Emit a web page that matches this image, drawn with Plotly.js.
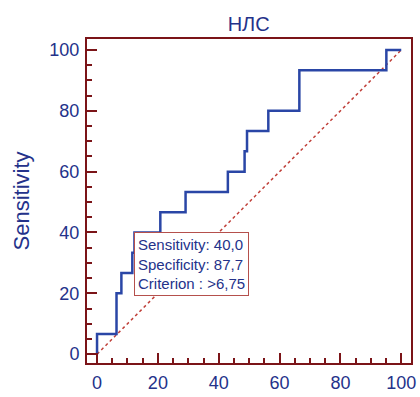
<!DOCTYPE html>
<html>
<head>
<meta charset="utf-8">
<script src="https://cdn.plot.ly/plotly-3.0.1.min.js"></script>
<style>html,body{margin:0;padding:0;background:#fff;}#chart{width:420px;height:397px;}</style>
</head>
<body>
<div id="chart"></div>
<script>
// ROC curve points: 100-Specificity (x) and Sensitivity (y)
const rocX = [0, 0, 6.4, 6.4, 8.0, 8.0, 11.6, 11.6, 12.3, 12.3, 20.8, 20.8, 29.1, 29.1, 43.0, 43.0, 48.5, 48.5, 49.3, 49.3, 56.3, 56.3, 66.5, 66.5, 95.1, 95.1, 100];
const rocY = [0, 6.67, 6.67, 20.0, 20.0, 26.67, 26.67, 33.33, 33.33, 40.0, 40.0, 46.67, 46.67, 53.33, 53.33, 60.0, 60.0, 66.67, 66.67, 73.33, 73.33, 80.0, 80.0, 93.33, 93.33, 100, 100];
const diagX = [0, 100];
const diagY = [0, 100];
const tickVals = [0, 20, 40, 60, 80, 100];
const tickText = ['0', '20', '40', '60', '80', '100'];
const critX = 12.3;
const critY = 40.0;
const critText = 'Sensitivity: 40,0<br>Specificity: 87,7<br>Criterion : >6,75';
const chartTitle = 'НЛС';
const yTitle = 'Sensitivity';

const axisRed = '#7b1418';
const textBlue = '#24328a';
const curveBlue = '#2a46a6';

const axisCommon = {
  showgrid: false, zeroline: false,
  showline: true, linecolor: axisRed, linewidth: 2, mirror: true,
  ticks: 'inside', ticklen: 10, tickwidth: 2, tickcolor: axisRed,
  tickmode: 'array', tickvals: tickVals, ticktext: tickText,
  minor: {dtick: 5, tick0: 0, ticks: 'inside', ticklen: 5, tickwidth: 2, tickcolor: axisRed},
  tickfont: {family: 'Liberation Sans, Arial, sans-serif', size: 18, color: textBlue},
  fixedrange: true
};

const data = [
  {x: diagX, y: diagY, mode: 'lines', line: {color: '#c0403a', width: 1.5, dash: 'dot'}, hoverinfo: 'skip', showlegend: false},
  {x: rocX, y: rocY, mode: 'lines', line: {color: curveBlue, width: 2.5}, showlegend: false}
];

const layout = {
  width: 420, height: 397,
  margin: {l: 87, r: 9, t: 39, b: 34},
  paper_bgcolor: '#fff', plot_bgcolor: '#fff',
  title: {text: chartTitle, x: 0.592, xanchor: 'center', y: 0.94, yanchor: 'middle',
          font: {family: 'Liberation Sans, Arial, sans-serif', size: 20, color: textBlue}},
  xaxis: Object.assign({}, axisCommon, {range: [-3.3, 103.2], ticklabelstandoff: 2}),
  yaxis: Object.assign({}, axisCommon, {range: [-2.9, 103.6], ticklabelstandoff: 2,
    title: {text: yTitle, standoff: 14, font: {family: 'Liberation Sans, Arial, sans-serif', size: 22, color: textBlue}}}),
  annotations: [{
    x: critX, y: critY, xref: 'x', yref: 'y', xanchor: 'left', yanchor: 'top',
    text: critText, showarrow: false, align: 'left',
    font: {family: 'Liberation Sans, Arial, sans-serif', size: 15, color: textBlue},
    bgcolor: '#fff', bordercolor: '#b5504c', borderwidth: 1, borderpad: 3
  }]
};

Plotly.newPlot('chart', data, layout, {displayModeBar: false, staticPlot: true});
</script>
</body>
</html>
